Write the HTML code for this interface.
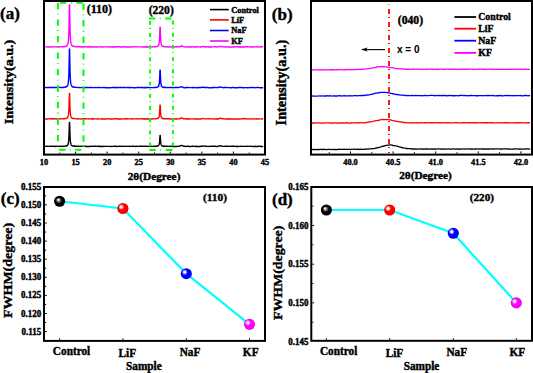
<!DOCTYPE html>
<html><head><meta charset="utf-8"><style>
html,body{margin:0;padding:0;background:#fff;width:533px;height:373px;overflow:hidden}
svg{display:block}
</style></head><body>
<svg width="533" height="373" viewBox="0 0 533 373">
<rect width="533" height="373" fill="#fff"/>
<defs>
<radialGradient id="gk" cx="0.5" cy="0.5" r="0.5" fx="0.36" fy="0.34"><stop offset="0" stop-color="#fff"/><stop offset="0.1" stop-color="#eee"/><stop offset="0.33" stop-color="#6a6a6a"/><stop offset="0.55" stop-color="#000"/><stop offset="1" stop-color="#000"/></radialGradient>
<radialGradient id="gr" cx="0.5" cy="0.5" r="0.5"><stop offset="0" stop-color="#ff0000"/><stop offset="0.8" stop-color="#ff0000"/><stop offset="1" stop-color="#e00000"/></radialGradient>
<radialGradient id="gb" cx="0.5" cy="0.5" r="0.5"><stop offset="0" stop-color="#0000ff"/><stop offset="0.8" stop-color="#0000ff"/><stop offset="1" stop-color="#0000e0"/></radialGradient>
<radialGradient id="gm" cx="0.5" cy="0.5" r="0.5"><stop offset="0" stop-color="#ff00ff"/><stop offset="0.8" stop-color="#ff00ff"/><stop offset="1" stop-color="#e000e0"/></radialGradient>
<radialGradient id="hl" cx="0.5" cy="0.5" r="0.5"><stop offset="0" stop-color="#fff" stop-opacity="1"/><stop offset="0.3" stop-color="#fff" stop-opacity="0.95"/><stop offset="1" stop-color="#fff" stop-opacity="0"/></radialGradient>
</defs>
<path d="M45.00,146.26 L46.00,146.35 L47.00,146.30 L48.00,146.37 L49.00,146.38 L50.00,146.21 L51.00,146.19 L52.00,146.43 L53.00,146.26 L54.00,146.25 L55.00,146.47 L56.00,146.31 L57.00,146.42 L58.00,146.30 L59.00,146.35 L60.00,146.19 L61.00,146.32 L62.00,146.37 L63.00,146.24 L64.00,146.26 L65.00,146.15 L65.20,145.95 L65.40,146.13 L65.60,146.05 L65.80,145.93 L66.00,145.80 L66.20,146.00 L66.40,145.83 L66.60,145.83 L66.80,145.79 L67.00,145.63 L67.20,145.55 L67.40,145.22 L67.60,145.11 L67.80,144.70 L68.00,144.42 L68.20,143.79 L68.40,142.64 L68.60,141.24 L68.80,138.95 L69.00,135.30 L69.20,129.02 L69.40,122.56 L69.60,122.47 L69.80,129.04 L70.00,135.13 L70.20,138.99 L70.40,141.38 L70.60,142.79 L70.80,143.80 L71.00,144.34 L71.20,144.84 L71.40,145.13 L71.60,145.40 L71.80,145.48 L72.00,145.46 L72.20,145.78 L72.40,145.90 L72.60,145.96 L72.80,145.91 L73.00,146.01 L73.20,145.90 L73.40,146.12 L73.60,146.07 L73.80,146.01 L74.00,145.97 L74.20,146.23 L74.40,146.29 L74.60,146.03 L75.60,146.30 L76.60,146.22 L77.60,146.17 L78.60,146.23 L79.60,146.38 L80.60,146.42 L81.60,146.18 L82.60,146.35 L83.60,146.19 L84.60,146.39 L85.60,146.28 L86.60,146.45 L87.60,146.48 L88.60,146.34 L89.60,146.49 L90.60,146.28 L91.60,146.21 L92.60,146.37 L93.60,146.20 L94.60,146.25 L95.60,146.31 L96.60,146.38 L97.60,146.24 L98.60,146.21 L99.60,146.45 L100.60,146.29 L101.60,146.48 L102.60,146.46 L103.60,146.31 L104.60,146.33 L105.60,146.35 L106.60,146.39 L107.60,146.37 L108.60,146.36 L109.60,146.38 L110.60,146.48 L111.60,146.35 L112.60,146.33 L113.60,146.41 L114.60,146.27 L115.60,146.29 L116.60,146.49 L117.60,146.35 L118.60,146.36 L119.60,146.20 L120.60,146.32 L121.60,146.37 L122.60,146.20 L123.60,146.38 L124.60,146.39 L125.60,146.21 L126.60,146.38 L127.60,146.34 L128.60,146.40 L129.60,146.30 L130.60,146.41 L131.60,146.42 L132.60,146.20 L133.60,146.21 L134.60,146.40 L135.60,146.48 L136.60,146.27 L137.60,146.33 L138.60,146.37 L139.60,146.29 L140.60,146.30 L141.60,146.29 L142.60,146.30 L143.60,146.37 L144.60,146.28 L145.60,146.30 L146.60,146.42 L147.60,146.19 L148.60,146.35 L149.60,146.40 L150.60,146.27 L151.60,146.23 L152.60,146.40 L153.60,146.22 L154.60,146.18 L155.60,146.22 L155.80,146.28 L156.00,146.09 L156.20,146.14 L156.40,146.13 L156.60,146.26 L156.80,146.12 L157.00,146.22 L157.20,145.98 L157.40,145.99 L157.60,146.03 L157.80,146.04 L158.00,145.83 L158.20,145.66 L158.40,145.48 L158.60,145.41 L158.80,145.03 L159.00,144.79 L159.20,144.15 L159.40,142.89 L159.60,141.14 L159.80,138.48 L160.00,135.43 L160.20,135.48 L160.40,138.34 L160.60,141.09 L160.80,142.92 L161.00,144.14 L161.20,144.63 L161.40,145.07 L161.60,145.37 L161.80,145.57 L162.00,145.71 L162.20,145.97 L162.40,145.82 L162.60,145.84 L162.80,146.17 L163.00,146.19 L163.20,146.26 L163.40,146.12 L163.60,146.30 L163.80,146.31 L164.00,146.11 L164.20,146.29 L164.40,146.33 L164.60,146.28 L164.80,146.25 L165.00,146.19 L165.20,146.21 L166.20,146.21 L167.20,146.17 L168.20,146.34 L169.20,146.26 L170.20,146.42 L171.20,146.19 L172.20,146.45 L173.20,146.39 L174.20,146.46 L175.20,146.46 L176.20,146.46 L177.20,146.36 L178.20,146.20 L179.20,146.39 L180.20,145.95 L181.20,145.38 L182.20,145.59 L183.20,146.15 L184.20,146.30 L185.20,146.48 L186.20,146.38 L187.20,146.30 L188.20,146.27 L189.20,146.46 L190.20,146.34 L191.20,146.43 L192.20,146.30 L193.20,146.26 L194.20,146.36 L195.20,146.44 L196.20,146.25 L197.20,146.44 L198.20,146.47 L199.20,146.44 L200.20,146.45 L201.20,146.19 L202.20,146.21 L203.20,146.06 L204.20,146.10 L205.20,146.28 L206.20,146.28 L207.20,146.36 L208.20,146.33 L209.20,146.34 L210.20,146.43 L211.20,146.20 L212.20,146.22 L213.20,146.24 L214.20,146.24 L215.20,146.22 L216.20,146.49 L217.20,146.46 L218.20,146.21 L219.20,146.12 L220.20,145.62 L221.20,145.87 L222.20,146.25 L223.20,146.39 L224.20,146.38 L225.20,146.31 L226.20,146.26 L227.20,146.30 L228.20,146.24 L229.20,146.37 L230.20,146.41 L231.20,146.31 L232.20,146.22 L233.20,146.25 L234.20,146.31 L235.20,146.38 L236.20,146.43 L237.20,146.31 L238.20,146.44 L239.20,146.39 L240.20,146.33 L241.20,146.31 L242.20,146.35 L243.20,146.41 L244.20,146.33 L245.20,146.41 L246.20,146.34 L247.20,146.27 L248.20,146.36 L249.20,146.41 L250.20,146.22 L251.20,146.33 L252.20,146.33 L253.20,146.46 L254.20,146.48 L255.20,146.31 L256.20,146.47 L257.20,146.44 L258.20,146.28 L259.20,146.34 L260.20,146.24 L261.20,146.44 L262.20,146.40 L263.20,146.47" fill="none" stroke="#000" stroke-width="1.4" stroke-linejoin="round"/>
<path d="M45.00,118.98 L46.00,118.94 L47.00,118.96 L48.00,118.91 L49.00,118.77 L50.00,118.91 L51.00,118.74 L52.00,118.78 L53.00,118.96 L54.00,118.74 L55.00,118.75 L56.00,118.75 L57.00,118.98 L58.00,118.76 L59.00,118.71 L60.00,118.94 L61.00,118.71 L62.00,118.91 L63.00,118.82 L64.00,118.82 L65.00,118.77 L65.20,118.63 L65.40,118.67 L65.60,118.41 L65.80,118.59 L66.00,118.47 L66.20,118.48 L66.40,118.23 L66.60,118.35 L66.80,118.31 L67.00,117.93 L67.20,117.86 L67.40,117.75 L67.60,117.58 L67.80,117.07 L68.00,116.60 L68.20,115.97 L68.40,115.11 L68.60,113.64 L68.80,111.06 L69.00,106.91 L69.20,100.38 L69.40,93.41 L69.60,93.43 L69.80,100.29 L70.00,106.95 L70.20,111.23 L70.40,113.53 L70.60,115.15 L70.80,115.94 L71.00,116.75 L71.20,117.23 L71.40,117.53 L71.60,117.73 L71.80,117.91 L72.00,118.10 L72.20,118.30 L72.40,118.17 L72.60,118.23 L72.80,118.49 L73.00,118.59 L73.20,118.52 L73.40,118.53 L73.60,118.65 L73.80,118.52 L74.00,118.57 L74.20,118.57 L74.40,118.70 L74.60,118.64 L75.60,118.67 L76.60,118.85 L77.60,118.95 L78.60,118.77 L79.60,118.91 L80.60,118.83 L81.60,118.97 L82.60,118.89 L83.60,118.80 L84.60,118.79 L85.60,118.74 L86.60,118.87 L87.60,118.85 L88.60,118.79 L89.60,118.84 L90.60,118.83 L91.60,118.97 L92.60,118.78 L93.60,119.04 L94.60,118.88 L95.60,118.92 L96.60,118.88 L97.60,118.99 L98.60,118.99 L99.60,118.91 L100.60,118.89 L101.60,118.96 L102.60,119.00 L103.60,118.86 L104.60,118.96 L105.60,119.03 L106.60,118.89 L107.60,118.81 L108.60,118.82 L109.60,118.96 L110.60,118.95 L111.60,119.03 L112.60,119.00 L113.60,118.82 L114.60,118.80 L115.60,118.82 L116.60,118.80 L117.60,118.96 L118.60,119.00 L119.60,119.02 L120.60,118.82 L121.60,119.01 L122.60,118.84 L123.60,118.87 L124.60,118.96 L125.60,118.77 L126.60,118.77 L127.60,119.00 L128.60,118.83 L129.60,118.85 L130.60,118.92 L131.60,118.95 L132.60,118.75 L133.60,118.84 L134.60,118.88 L135.60,118.89 L136.60,118.81 L137.60,118.92 L138.60,119.03 L139.60,118.86 L140.60,118.90 L141.60,118.78 L142.60,118.82 L143.60,118.94 L144.60,118.77 L145.60,119.00 L146.60,119.01 L147.60,118.76 L148.60,119.01 L149.60,118.84 L150.60,118.95 L151.60,118.94 L152.60,118.79 L153.60,118.88 L154.60,118.85 L155.60,118.85 L155.80,118.67 L156.00,118.80 L156.20,118.85 L156.40,118.74 L156.60,118.68 L156.80,118.52 L157.00,118.60 L157.20,118.52 L157.40,118.58 L157.60,118.50 L157.80,118.39 L158.00,118.17 L158.20,118.18 L158.40,118.00 L158.60,117.61 L158.80,117.48 L159.00,116.88 L159.20,115.91 L159.40,114.82 L159.60,112.35 L159.80,108.88 L160.00,105.24 L160.20,105.21 L160.40,108.95 L160.60,112.50 L160.80,114.68 L161.00,115.96 L161.20,116.74 L161.40,117.23 L161.60,117.78 L161.80,118.03 L162.00,118.15 L162.20,118.34 L162.40,118.33 L162.60,118.38 L162.80,118.48 L163.00,118.67 L163.20,118.46 L163.40,118.64 L163.60,118.59 L163.80,118.77 L164.00,118.67 L164.20,118.68 L164.40,118.71 L164.60,118.77 L164.80,118.85 L165.00,118.73 L165.20,118.89 L166.20,118.71 L167.20,118.77 L168.20,118.74 L169.20,118.75 L170.20,118.95 L171.20,118.94 L172.20,118.79 L173.20,118.79 L174.20,118.86 L175.20,118.96 L176.20,118.98 L177.20,118.96 L178.20,118.92 L179.20,118.76 L180.20,118.56 L181.20,117.90 L182.20,118.10 L183.20,118.71 L184.20,118.79 L185.20,118.82 L186.20,118.98 L187.20,118.75 L188.20,118.99 L189.20,119.01 L190.20,119.03 L191.20,118.86 L192.20,118.91 L193.20,118.92 L194.20,118.94 L195.20,119.04 L196.20,118.95 L197.20,118.84 L198.20,119.01 L199.20,118.89 L200.20,118.93 L201.20,118.96 L202.20,118.57 L203.20,118.58 L204.20,118.83 L205.20,118.89 L206.20,118.91 L207.20,118.89 L208.20,118.81 L209.20,118.91 L210.20,118.76 L211.20,118.90 L212.20,118.94 L213.20,118.88 L214.20,118.92 L215.20,119.04 L216.20,119.02 L217.20,118.79 L218.20,118.97 L219.20,118.71 L220.20,118.09 L221.20,118.43 L222.20,118.76 L223.20,118.77 L224.20,118.91 L225.20,119.03 L226.20,118.85 L227.20,119.01 L228.20,118.96 L229.20,118.79 L230.20,119.01 L231.20,118.93 L232.20,119.03 L233.20,118.96 L234.20,118.97 L235.20,118.85 L236.20,118.99 L237.20,119.03 L238.20,119.01 L239.20,118.88 L240.20,118.98 L241.20,118.89 L242.20,118.78 L243.20,118.76 L244.20,118.77 L245.20,118.81 L246.20,118.80 L247.20,118.90 L248.20,118.96 L249.20,118.91 L250.20,118.88 L251.20,118.94 L252.20,118.84 L253.20,118.89 L254.20,118.98 L255.20,118.87 L256.20,118.80 L257.20,119.02 L258.20,118.97 L259.20,118.86 L260.20,118.86 L261.20,118.91 L262.20,118.93 L263.20,118.82" fill="none" stroke="#ff0000" stroke-width="1.4" stroke-linejoin="round"/>
<path d="M45.00,87.44 L46.00,87.50 L47.00,87.67 L48.00,87.48 L49.00,87.57 L50.00,87.49 L51.00,87.49 L52.00,87.47 L53.00,87.54 L54.00,87.47 L55.00,87.42 L56.00,87.44 L57.00,87.45 L58.00,87.53 L59.00,87.39 L60.00,87.37 L61.00,87.47 L62.00,87.43 L63.00,87.47 L64.00,87.20 L65.00,87.17 L65.20,87.13 L65.40,86.98 L65.60,87.21 L65.80,86.93 L66.00,86.82 L66.20,86.85 L66.40,86.67 L66.60,86.69 L66.80,86.46 L67.00,86.22 L67.20,85.98 L67.40,85.89 L67.60,85.39 L67.80,85.04 L68.00,84.25 L68.20,83.41 L68.40,81.75 L68.60,79.44 L68.80,75.72 L69.00,69.61 L69.20,59.67 L69.40,49.05 L69.60,48.98 L69.80,59.69 L70.00,69.66 L70.20,75.81 L70.40,79.37 L70.60,81.67 L70.80,83.15 L71.00,84.16 L71.20,84.82 L71.40,85.32 L71.60,85.87 L71.80,86.23 L72.00,86.24 L72.20,86.65 L72.40,86.64 L72.60,86.86 L72.80,86.99 L73.00,87.07 L73.20,86.87 L73.40,87.01 L73.60,87.15 L73.80,87.30 L74.00,87.08 L74.20,87.17 L74.40,87.37 L74.60,87.17 L75.60,87.35 L76.60,87.39 L77.60,87.53 L78.60,87.63 L79.60,87.42 L80.60,87.61 L81.60,87.61 L82.60,87.65 L83.60,87.57 L84.60,87.69 L85.60,87.53 L86.60,87.55 L87.60,87.49 L88.60,87.66 L89.60,87.57 L90.60,87.51 L91.60,87.48 L92.60,87.65 L93.60,87.62 L94.60,87.65 L95.60,87.55 L96.60,87.58 L97.60,87.48 L98.60,87.65 L99.60,87.45 L100.60,87.58 L101.60,87.67 L102.60,87.64 L103.60,87.47 L104.60,87.51 L105.60,87.70 L106.60,87.64 L107.60,87.71 L108.60,87.70 L109.60,87.58 L110.60,87.71 L111.60,87.66 L112.60,87.54 L113.60,87.56 L114.60,87.47 L115.60,87.56 L116.60,87.73 L117.60,87.48 L118.60,87.62 L119.60,87.48 L120.60,87.47 L121.60,87.64 L122.60,87.52 L123.60,87.46 L124.60,87.49 L125.60,87.64 L126.60,87.62 L127.60,87.45 L128.60,87.51 L129.60,87.73 L130.60,87.51 L131.60,87.61 L132.60,87.57 L133.60,87.68 L134.60,87.62 L135.60,87.68 L136.60,87.60 L137.60,87.50 L138.60,87.49 L139.60,87.46 L140.60,87.69 L141.60,87.47 L142.60,87.44 L143.60,87.72 L144.60,87.49 L145.60,87.70 L146.60,87.45 L147.60,87.56 L148.60,87.49 L149.60,87.66 L150.60,87.59 L151.60,87.59 L152.60,87.61 L153.60,87.62 L154.60,87.43 L155.60,87.45 L155.80,87.38 L156.00,87.26 L156.20,87.46 L156.40,87.36 L156.60,87.40 L156.80,87.18 L157.00,87.23 L157.20,87.16 L157.40,87.17 L157.60,86.90 L157.80,86.88 L158.00,86.79 L158.20,86.50 L158.40,86.42 L158.60,86.16 L158.80,85.62 L159.00,85.02 L159.20,83.97 L159.40,82.16 L159.60,79.36 L159.80,75.08 L160.00,70.11 L160.20,70.14 L160.40,74.81 L160.60,79.32 L160.80,82.15 L161.00,84.07 L161.20,85.04 L161.40,85.75 L161.60,86.23 L161.80,86.43 L162.00,86.76 L162.20,86.81 L162.40,86.90 L162.60,87.16 L162.80,87.23 L163.00,87.30 L163.20,87.22 L163.40,87.35 L163.60,87.27 L163.80,87.48 L164.00,87.48 L164.20,87.32 L164.40,87.53 L164.60,87.32 L164.80,87.31 L165.00,87.51 L165.20,87.40 L166.20,87.51 L167.20,87.57 L168.20,87.41 L169.20,87.63 L170.20,87.50 L171.20,87.55 L172.20,87.53 L173.20,87.65 L174.20,87.65 L175.20,87.52 L176.20,87.47 L177.20,87.53 L178.20,87.56 L179.20,87.43 L180.20,87.19 L181.20,86.76 L182.20,86.85 L183.20,87.53 L184.20,87.72 L185.20,87.71 L186.20,87.56 L187.20,87.49 L188.20,87.54 L189.20,87.58 L190.20,87.60 L191.20,87.61 L192.20,87.55 L193.20,87.70 L194.20,87.53 L195.20,87.59 L196.20,87.71 L197.20,87.69 L198.20,87.54 L199.20,87.52 L200.20,87.69 L201.20,87.44 L202.20,87.31 L203.20,87.21 L204.20,87.49 L205.20,87.49 L206.20,87.46 L207.20,87.51 L208.20,87.68 L209.20,87.59 L210.20,87.74 L211.20,87.68 L212.20,87.74 L213.20,87.46 L214.20,87.50 L215.20,87.45 L216.20,87.58 L217.20,87.55 L218.20,87.45 L219.20,87.39 L220.20,86.80 L221.20,87.12 L222.20,87.47 L223.20,87.69 L224.20,87.57 L225.20,87.53 L226.20,87.46 L227.20,87.58 L228.20,87.64 L229.20,87.65 L230.20,87.72 L231.20,87.69 L232.20,87.52 L233.20,87.49 L234.20,87.68 L235.20,87.69 L236.20,87.60 L237.20,87.70 L238.20,87.61 L239.20,87.53 L240.20,87.50 L241.20,87.45 L242.20,87.64 L243.20,87.72 L244.20,87.72 L245.20,87.59 L246.20,87.65 L247.20,87.73 L248.20,87.69 L249.20,87.63 L250.20,87.57 L251.20,87.60 L252.20,87.50 L253.20,87.50 L254.20,87.65 L255.20,87.75 L256.20,87.61 L257.20,87.57 L258.20,87.55 L259.20,87.59 L260.20,87.69 L261.20,87.59 L262.20,87.74 L263.20,87.50" fill="none" stroke="#0000ff" stroke-width="1.4" stroke-linejoin="round"/>
<path d="M45.00,46.83 L46.00,46.89 L47.00,46.86 L48.00,46.99 L49.00,46.98 L50.00,47.01 L51.00,46.91 L52.00,46.73 L53.00,46.89 L54.00,46.88 L55.00,46.85 L56.00,46.78 L57.00,46.91 L58.00,46.96 L59.00,46.70 L60.00,46.85 L61.00,46.74 L62.00,46.75 L63.00,46.81 L64.00,46.74 L65.00,46.50 L65.20,46.33 L65.40,46.50 L65.60,46.22 L65.80,46.22 L66.00,46.28 L66.20,46.04 L66.40,45.92 L66.60,45.99 L66.80,45.84 L67.00,45.45 L67.20,45.23 L67.40,44.89 L67.60,44.44 L67.80,43.92 L68.00,43.39 L68.20,42.03 L68.40,40.47 L68.60,37.95 L68.80,33.82 L69.00,27.08 L69.20,16.30 L69.40,4.79 L69.60,4.72 L69.80,16.33 L70.00,26.93 L70.20,33.88 L70.40,38.18 L70.60,40.42 L70.80,42.09 L71.00,43.24 L71.20,43.93 L71.40,44.56 L71.60,44.82 L71.80,45.19 L72.00,45.65 L72.20,45.60 L72.40,45.98 L72.60,45.89 L72.80,46.24 L73.00,46.23 L73.20,46.30 L73.40,46.21 L73.60,46.24 L73.80,46.50 L74.00,46.36 L74.20,46.40 L74.40,46.63 L74.60,46.67 L75.60,46.52 L76.60,46.86 L77.60,46.77 L78.60,46.76 L79.60,46.69 L80.60,46.79 L81.60,46.98 L82.60,46.78 L83.60,46.74 L84.60,46.75 L85.60,46.75 L86.60,46.82 L87.60,47.00 L88.60,46.75 L89.60,46.78 L90.60,47.01 L91.60,47.03 L92.60,47.03 L93.60,46.81 L94.60,46.84 L95.60,47.02 L96.60,46.88 L97.60,46.95 L98.60,46.83 L99.60,46.75 L100.60,46.84 L101.60,46.96 L102.60,46.98 L103.60,46.91 L104.60,46.88 L105.60,46.90 L106.60,46.87 L107.60,46.90 L108.60,46.99 L109.60,46.80 L110.60,46.92 L111.60,47.02 L112.60,47.00 L113.60,46.80 L114.60,47.03 L115.60,47.00 L116.60,46.79 L117.60,46.82 L118.60,46.80 L119.60,46.76 L120.60,47.04 L121.60,46.87 L122.60,47.01 L123.60,46.78 L124.60,46.75 L125.60,47.00 L126.60,46.98 L127.60,47.04 L128.60,46.95 L129.60,46.90 L130.60,46.97 L131.60,46.77 L132.60,46.90 L133.60,46.87 L134.60,46.79 L135.60,46.92 L136.60,46.84 L137.60,46.89 L138.60,46.85 L139.60,46.83 L140.60,46.84 L141.60,46.92 L142.60,47.03 L143.60,47.01 L144.60,46.99 L145.60,46.98 L146.60,46.81 L147.60,47.01 L148.60,46.80 L149.60,46.75 L150.60,46.85 L151.60,46.91 L152.60,46.78 L153.60,46.84 L154.60,46.70 L155.60,46.83 L155.80,46.66 L156.00,46.65 L156.20,46.64 L156.40,46.71 L156.60,46.71 L156.80,46.53 L157.00,46.45 L157.20,46.45 L157.40,46.21 L157.60,46.23 L157.80,46.24 L158.00,46.07 L158.20,45.67 L158.40,45.65 L158.60,45.15 L158.80,44.83 L159.00,43.89 L159.20,42.67 L159.40,40.86 L159.60,37.75 L159.80,32.55 L160.00,27.28 L160.20,27.24 L160.40,32.53 L160.60,37.58 L160.80,40.85 L161.00,42.73 L161.20,43.89 L161.40,44.73 L161.60,45.30 L161.80,45.57 L162.00,45.69 L162.20,45.91 L162.40,46.10 L162.60,46.28 L162.80,46.23 L163.00,46.29 L163.20,46.42 L163.40,46.46 L163.60,46.42 L163.80,46.61 L164.00,46.75 L164.20,46.66 L164.40,46.75 L164.60,46.79 L164.80,46.81 L165.00,46.85 L165.20,46.72 L166.20,46.84 L167.20,46.70 L168.20,46.95 L169.20,46.81 L170.20,46.85 L171.20,46.98 L172.20,46.81 L173.20,46.78 L174.20,46.98 L175.20,46.91 L176.20,46.76 L177.20,46.74 L178.20,46.84 L179.20,46.71 L180.20,46.69 L181.20,45.89 L182.20,46.02 L183.20,46.65 L184.20,46.88 L185.20,46.87 L186.20,46.93 L187.20,46.94 L188.20,46.87 L189.20,46.77 L190.20,47.04 L191.20,46.95 L192.20,46.77 L193.20,46.88 L194.20,46.97 L195.20,47.04 L196.20,46.77 L197.20,46.75 L198.20,46.89 L199.20,46.87 L200.20,47.02 L201.20,46.98 L202.20,46.67 L203.20,46.48 L204.20,46.81 L205.20,47.01 L206.20,46.81 L207.20,46.87 L208.20,46.77 L209.20,46.94 L210.20,46.76 L211.20,47.03 L212.20,46.91 L213.20,46.92 L214.20,46.77 L215.20,46.82 L216.20,46.89 L217.20,47.01 L218.20,46.89 L219.20,46.61 L220.20,46.36 L221.20,46.52 L222.20,46.85 L223.20,46.81 L224.20,46.84 L225.20,47.02 L226.20,46.79 L227.20,46.91 L228.20,46.93 L229.20,46.86 L230.20,46.98 L231.20,47.02 L232.20,47.01 L233.20,46.97 L234.20,46.81 L235.20,46.77 L236.20,46.88 L237.20,46.84 L238.20,46.81 L239.20,47.01 L240.20,46.81 L241.20,47.00 L242.20,47.03 L243.20,46.79 L244.20,47.02 L245.20,46.87 L246.20,46.81 L247.20,46.81 L248.20,46.76 L249.20,46.90 L250.20,46.86 L251.20,47.00 L252.20,47.00 L253.20,46.77 L254.20,46.87 L255.20,46.87 L256.20,46.80 L257.20,46.82 L258.20,46.83 L259.20,46.96 L260.20,46.85 L261.20,46.78 L262.20,46.82 L263.20,46.88" fill="none" stroke="#ff00ff" stroke-width="1.4" stroke-linejoin="round"/>
<line x1="57.9" y1="3.0" x2="57.9" y2="149" stroke="#00ff00" stroke-width="2" stroke-dasharray="6.4 4.4 0.8 4.87" stroke-dashoffset="0"/>
<line x1="83.5" y1="3.6" x2="83.5" y2="149" stroke="#00ff00" stroke-width="2" stroke-dasharray="6.4 4.4 0.8 4.87" stroke-dashoffset="0"/>
<line x1="60.0" y1="2.8" x2="83" y2="2.8" stroke="#00ff00" stroke-width="2" stroke-dasharray="6.2 4.8 0.8 4.6 6.4 99" stroke-dashoffset="0"/>
<line x1="58.9" y1="149.8" x2="83" y2="149.8" stroke="#00ff00" stroke-width="2" stroke-dasharray="6.7 4.1 0.8 4.6 6.3 99" stroke-dashoffset="0"/>
<line x1="150.1" y1="20.8" x2="150.1" y2="149" stroke="#00ff00" stroke-width="2" stroke-dasharray="3.9 3.4 0.8 4.08" stroke-dashoffset="0"/>
<line x1="172.9" y1="20.6" x2="172.9" y2="149" stroke="#00ff00" stroke-width="2" stroke-dasharray="3.9 3.4 0.8 4.08" stroke-dashoffset="0"/>
<line x1="149.0" y1="18.6" x2="173" y2="18.6" stroke="#00ff00" stroke-width="2" stroke-dasharray="6.2 4.6 0.8 4.6 6.3 99" stroke-dashoffset="0"/>
<line x1="149.4" y1="149.9" x2="173" y2="149.9" stroke="#00ff00" stroke-width="2" stroke-dasharray="6.4 4.5 0.8 4.6 6.7 99" stroke-dashoffset="0"/>
<rect x="44" y="1" width="221" height="153.6" fill="none" stroke="#000" stroke-width="2"/>
<line x1="44.00" y1="153.6" x2="44.00" y2="151.6" stroke="#000" stroke-width="1"/>
<line x1="59.79" y1="153.6" x2="59.79" y2="152.5" stroke="#000" stroke-width="1"/>
<line x1="75.57" y1="153.6" x2="75.57" y2="151.6" stroke="#000" stroke-width="1"/>
<line x1="91.36" y1="153.6" x2="91.36" y2="152.5" stroke="#000" stroke-width="1"/>
<line x1="107.14" y1="153.6" x2="107.14" y2="151.6" stroke="#000" stroke-width="1"/>
<line x1="122.93" y1="153.6" x2="122.93" y2="152.5" stroke="#000" stroke-width="1"/>
<line x1="138.71" y1="153.6" x2="138.71" y2="151.6" stroke="#000" stroke-width="1"/>
<line x1="154.50" y1="153.6" x2="154.50" y2="152.5" stroke="#000" stroke-width="1"/>
<line x1="170.29" y1="153.6" x2="170.29" y2="151.6" stroke="#000" stroke-width="1"/>
<line x1="186.07" y1="153.6" x2="186.07" y2="152.5" stroke="#000" stroke-width="1"/>
<line x1="201.86" y1="153.6" x2="201.86" y2="151.6" stroke="#000" stroke-width="1"/>
<line x1="217.64" y1="153.6" x2="217.64" y2="152.5" stroke="#000" stroke-width="1"/>
<line x1="233.43" y1="153.6" x2="233.43" y2="151.6" stroke="#000" stroke-width="1"/>
<line x1="249.21" y1="153.6" x2="249.21" y2="152.5" stroke="#000" stroke-width="1"/>
<line x1="265.00" y1="153.6" x2="265.00" y2="151.6" stroke="#000" stroke-width="1"/>
<text x="44.00" y="164.6" style='font-family:"Liberation Serif",serif;font-weight:bold;font-size:8.3px' text-anchor="middle" stroke="#000" stroke-width="0.4">10</text>
<text x="75.57" y="164.6" style='font-family:"Liberation Serif",serif;font-weight:bold;font-size:8.3px' text-anchor="middle" stroke="#000" stroke-width="0.4">15</text>
<text x="107.14" y="164.6" style='font-family:"Liberation Serif",serif;font-weight:bold;font-size:8.3px' text-anchor="middle" stroke="#000" stroke-width="0.4">20</text>
<text x="138.71" y="164.6" style='font-family:"Liberation Serif",serif;font-weight:bold;font-size:8.3px' text-anchor="middle" stroke="#000" stroke-width="0.4">25</text>
<text x="170.29" y="164.6" style='font-family:"Liberation Serif",serif;font-weight:bold;font-size:8.3px' text-anchor="middle" stroke="#000" stroke-width="0.4">30</text>
<text x="201.86" y="164.6" style='font-family:"Liberation Serif",serif;font-weight:bold;font-size:8.3px' text-anchor="middle" stroke="#000" stroke-width="0.4">35</text>
<text x="233.43" y="164.6" style='font-family:"Liberation Serif",serif;font-weight:bold;font-size:8.3px' text-anchor="middle" stroke="#000" stroke-width="0.4">40</text>
<text x="265.00" y="164.6" style='font-family:"Liberation Serif",serif;font-weight:bold;font-size:8.3px' text-anchor="middle" stroke="#000" stroke-width="0.4">45</text>
<line x1="210" y1="9.6" x2="228.7" y2="9.6" stroke="#000" stroke-width="1.6"/>
<text x="231.2" y="12.5" style='font-family:"Liberation Serif",serif;font-weight:bold;font-size:8.4px' text-anchor="start" stroke="#000" stroke-width="0.4">Control</text>
<line x1="210" y1="19.9" x2="228.7" y2="19.9" stroke="#ff0000" stroke-width="1.6"/>
<text x="231.2" y="22.799999999999997" style='font-family:"Liberation Serif",serif;font-weight:bold;font-size:8.4px' text-anchor="start" stroke="#000" stroke-width="0.4">LiF</text>
<line x1="210" y1="30.5" x2="228.7" y2="30.5" stroke="#0000ff" stroke-width="1.6"/>
<text x="231.2" y="33.4" style='font-family:"Liberation Serif",serif;font-weight:bold;font-size:8.4px' text-anchor="start" stroke="#000" stroke-width="0.4">NaF</text>
<line x1="210" y1="41.0" x2="228.7" y2="41.0" stroke="#ff00ff" stroke-width="1.6"/>
<text x="231.2" y="43.9" style='font-family:"Liberation Serif",serif;font-weight:bold;font-size:8.4px' text-anchor="start" stroke="#000" stroke-width="0.4">KF</text>
<text x="99.45" y="12.9" style='font-family:"Liberation Serif",serif;font-weight:bold;font-size:12.0px' text-anchor="middle" stroke="#000" stroke-width="0.4">(110)</text>
<text x="161.2" y="13.9" style='font-family:"Liberation Serif",serif;font-weight:bold;font-size:11.6px' text-anchor="middle" stroke="#000" stroke-width="0.4">(220)</text>
<text x="0.1" y="19.4" style='font-family:"Liberation Serif",serif;font-weight:bold;font-size:17px' text-anchor="start" stroke="#000" stroke-width="0.4">(a)</text>
<text x="0" y="0" style='font-family:"Liberation Serif",serif;font-weight:bold;font-size:12.8px' text-anchor="middle" stroke="#000" stroke-width="0.4" transform="translate(12.7 82.0) rotate(-90) scale(1.1 1)">Intensity(a.u.)</text>
<text x="154.05" y="179.6" style='font-family:"Liberation Serif",serif;font-weight:bold;font-size:11.3px' text-anchor="middle" stroke="#000" stroke-width="0.4">2θ(Degree)</text>
<path d="M312.00,149.52 L313.00,149.39 L314.00,149.56 L315.00,149.37 L316.00,149.54 L317.00,149.51 L318.00,149.33 L319.00,149.56 L320.00,149.41 L321.00,149.47 L322.00,149.48 L323.00,149.49 L324.00,149.41 L325.00,149.25 L326.00,149.54 L327.00,149.56 L328.00,149.41 L329.00,149.44 L330.00,149.31 L331.00,149.56 L332.00,149.47 L333.00,149.28 L334.00,149.51 L335.00,149.57 L336.00,149.31 L337.00,149.57 L338.00,149.36 L339.00,149.23 L340.00,149.44 L341.00,149.28 L342.00,149.44 L343.00,149.37 L344.00,149.18 L345.00,149.34 L346.00,149.46 L347.00,149.31 L348.00,149.33 L349.00,149.45 L350.00,149.28 L351.00,149.29 L352.00,149.33 L353.00,149.42 L354.00,149.16 L355.00,149.11 L356.00,149.38 L357.00,149.29 L358.00,149.18 L359.00,149.41 L360.00,149.40 L361.00,149.25 L362.00,149.42 L363.00,149.35 L364.00,149.29 L365.00,149.09 L366.00,148.95 L367.00,149.19 L368.00,149.17 L369.00,148.96 L370.00,148.94 L371.00,148.89 L372.00,148.67 L373.00,148.72 L374.00,148.53 L375.00,148.29 L376.00,147.99 L377.00,147.95 L378.00,147.61 L379.00,147.52 L380.00,147.02 L381.00,146.82 L382.00,146.45 L383.00,146.25 L384.00,146.04 L385.00,145.60 L386.00,145.36 L387.00,145.35 L388.00,145.10 L389.00,145.14 L390.00,144.97 L391.00,144.96 L392.00,145.22 L393.00,145.50 L394.00,145.65 L395.00,145.72 L396.00,145.91 L397.00,146.04 L398.00,146.40 L399.00,146.70 L400.00,147.22 L401.00,147.16 L402.00,147.74 L403.00,147.78 L404.00,147.97 L405.00,148.09 L406.00,148.52 L407.00,148.35 L408.00,148.61 L409.00,148.68 L410.00,148.63 L411.00,148.70 L412.00,149.05 L413.00,149.01 L414.00,149.02 L415.00,149.11 L416.00,148.80 L417.00,149.06 L418.00,149.08 L419.00,148.88 L420.00,148.97 L421.00,149.18 L422.00,148.93 L423.00,149.10 L424.00,148.86 L425.00,149.07 L426.00,148.91 L427.00,149.00 L428.00,148.95 L429.00,149.15 L430.00,149.10 L431.00,149.00 L432.00,149.07 L433.00,148.97 L434.00,149.12 L435.00,148.90 L436.00,149.02 L437.00,149.03 L438.00,148.96 L439.00,148.82 L440.00,148.87 L441.00,149.06 L442.00,148.88 L443.00,149.10 L444.00,149.00 L445.00,149.18 L446.00,149.14 L447.00,149.09 L448.00,148.95 L449.00,148.82 L450.00,149.02 L451.00,149.10 L452.00,149.17 L453.00,148.88 L454.00,148.86 L455.00,149.19 L456.00,149.10 L457.00,148.99 L458.00,149.10 L459.00,148.86 L460.00,149.02 L461.00,149.07 L462.00,149.04 L463.00,148.86 L464.00,148.85 L465.00,149.05 L466.00,149.15 L467.00,148.86 L468.00,148.80 L469.00,148.83 L470.00,149.11 L471.00,148.96 L472.00,148.98 L473.00,149.20 L474.00,149.04 L475.00,148.91 L476.00,149.08 L477.00,148.80 L478.00,148.91 L479.00,149.08 L480.00,148.87 L481.00,148.81 L482.00,149.01 L483.00,148.93 L484.00,149.19 L485.00,148.84 L486.00,149.12 L487.00,148.96 L488.00,149.12 L489.00,148.98 L490.00,149.07 L491.00,148.93 L492.00,148.89 L493.00,148.98 L494.00,149.12 L495.00,148.94 L496.00,148.89 L497.00,148.97 L498.00,148.84 L499.00,148.93 L500.00,149.03 L501.00,149.02 L502.00,149.04 L503.00,148.92 L504.00,148.81 L505.00,148.81 L506.00,148.94 L507.00,148.88 L508.00,149.03 L509.00,148.91 L510.00,149.10 L511.00,149.04 L512.00,149.06 L513.00,149.09 L514.00,149.01 L515.00,148.97 L516.00,148.92 L517.00,148.83 L518.00,149.12 L519.00,149.00 L520.00,148.84 L521.00,149.17 L522.00,149.03 L523.00,149.05 L524.00,148.98 L525.00,148.85 L526.00,149.20 L527.00,148.87 L528.00,148.95 L529.00,149.20 L530.00,148.85" fill="none" stroke="#000" stroke-width="1.3" stroke-linejoin="round"/>
<path d="M312.00,123.00 L313.00,122.99 L314.00,122.89 L315.00,123.16 L316.00,122.96 L317.00,122.79 L318.00,122.97 L319.00,122.78 L320.00,123.06 L321.00,123.13 L322.00,123.14 L323.00,122.79 L324.00,123.04 L325.00,122.89 L326.00,122.96 L327.00,122.89 L328.00,122.89 L329.00,122.81 L330.00,123.01 L331.00,122.79 L332.00,123.14 L333.00,122.77 L334.00,123.14 L335.00,122.83 L336.00,122.78 L337.00,123.04 L338.00,122.95 L339.00,123.05 L340.00,122.94 L341.00,122.99 L342.00,122.77 L343.00,123.00 L344.00,122.93 L345.00,123.11 L346.00,122.73 L347.00,122.75 L348.00,122.99 L349.00,123.09 L350.00,122.88 L351.00,123.00 L352.00,122.93 L353.00,122.86 L354.00,122.89 L355.00,122.93 L356.00,122.70 L357.00,122.80 L358.00,122.96 L359.00,122.75 L360.00,122.81 L361.00,122.70 L362.00,122.70 L363.00,122.78 L364.00,122.76 L365.00,122.78 L366.00,122.51 L367.00,122.30 L368.00,122.24 L369.00,122.00 L370.00,121.92 L371.00,121.89 L372.00,121.72 L373.00,121.37 L374.00,121.13 L375.00,120.87 L376.00,120.67 L377.00,120.57 L378.00,120.25 L379.00,120.29 L380.00,119.97 L381.00,119.71 L382.00,119.61 L383.00,119.35 L384.00,119.56 L385.00,119.54 L386.00,119.41 L387.00,119.61 L388.00,119.53 L389.00,119.64 L390.00,119.81 L391.00,119.99 L392.00,120.36 L393.00,120.59 L394.00,120.85 L395.00,120.83 L396.00,121.31 L397.00,121.41 L398.00,121.57 L399.00,121.80 L400.00,121.94 L401.00,121.99 L402.00,122.19 L403.00,122.40 L404.00,122.52 L405.00,122.68 L406.00,122.45 L407.00,122.79 L408.00,122.79 L409.00,122.79 L410.00,122.92 L411.00,122.60 L412.00,122.87 L413.00,122.93 L414.00,122.63 L415.00,122.82 L416.00,122.97 L417.00,122.71 L418.00,122.94 L419.00,122.96 L420.00,122.77 L421.00,122.66 L422.00,122.69 L423.00,122.93 L424.00,122.77 L425.00,122.73 L426.00,122.78 L427.00,122.97 L428.00,122.70 L429.00,122.61 L430.00,122.98 L431.00,122.73 L432.00,122.75 L433.00,122.99 L434.00,122.71 L435.00,122.63 L436.00,122.96 L437.00,122.70 L438.00,122.69 L439.00,122.98 L440.00,122.69 L441.00,122.96 L442.00,122.73 L443.00,122.72 L444.00,122.69 L445.00,122.82 L446.00,122.82 L447.00,122.76 L448.00,122.80 L449.00,122.72 L450.00,122.94 L451.00,122.97 L452.00,122.90 L453.00,122.93 L454.00,122.63 L455.00,122.70 L456.00,122.68 L457.00,122.66 L458.00,122.99 L459.00,122.96 L460.00,122.97 L461.00,122.82 L462.00,122.65 L463.00,122.77 L464.00,122.62 L465.00,122.96 L466.00,122.71 L467.00,122.72 L468.00,122.98 L469.00,122.68 L470.00,122.97 L471.00,122.72 L472.00,122.87 L473.00,122.64 L474.00,122.96 L475.00,122.76 L476.00,122.74 L477.00,122.86 L478.00,122.84 L479.00,122.70 L480.00,122.65 L481.00,122.83 L482.00,122.61 L483.00,122.95 L484.00,122.74 L485.00,122.67 L486.00,122.73 L487.00,122.65 L488.00,122.73 L489.00,122.82 L490.00,122.76 L491.00,122.73 L492.00,122.72 L493.00,122.79 L494.00,122.91 L495.00,122.78 L496.00,122.91 L497.00,122.79 L498.00,122.65 L499.00,122.67 L500.00,122.94 L501.00,122.79 L502.00,122.75 L503.00,122.81 L504.00,122.94 L505.00,122.75 L506.00,122.74 L507.00,122.75 L508.00,122.60 L509.00,122.82 L510.00,122.79 L511.00,122.80 L512.00,122.78 L513.00,122.79 L514.00,122.89 L515.00,122.67 L516.00,122.99 L517.00,122.65 L518.00,122.95 L519.00,122.67 L520.00,122.92 L521.00,122.70 L522.00,122.63 L523.00,122.82 L524.00,122.94 L525.00,122.94 L526.00,122.95 L527.00,122.99 L528.00,122.62 L529.00,122.75 L530.00,122.64" fill="none" stroke="#ff0000" stroke-width="1.3" stroke-linejoin="round"/>
<path d="M312.00,96.10 L313.00,95.97 L314.00,96.08 L315.00,96.10 L316.00,96.18 L317.00,96.04 L318.00,96.12 L319.00,95.98 L320.00,95.79 L321.00,96.11 L322.00,95.79 L323.00,95.78 L324.00,96.08 L325.00,95.85 L326.00,96.00 L327.00,95.74 L328.00,95.81 L329.00,96.01 L330.00,95.73 L331.00,95.92 L332.00,96.08 L333.00,95.79 L334.00,95.98 L335.00,95.99 L336.00,95.94 L337.00,95.99 L338.00,95.96 L339.00,95.68 L340.00,95.75 L341.00,95.88 L342.00,96.05 L343.00,95.75 L344.00,95.89 L345.00,95.70 L346.00,95.99 L347.00,95.82 L348.00,95.85 L349.00,95.90 L350.00,95.68 L351.00,95.91 L352.00,95.93 L353.00,95.95 L354.00,95.71 L355.00,95.68 L356.00,95.63 L357.00,95.91 L358.00,95.70 L359.00,95.65 L360.00,95.67 L361.00,95.69 L362.00,95.48 L363.00,95.42 L364.00,95.51 L365.00,95.42 L366.00,95.11 L367.00,94.89 L368.00,95.08 L369.00,94.83 L370.00,94.58 L371.00,94.30 L372.00,94.31 L373.00,93.87 L374.00,93.55 L375.00,93.27 L376.00,93.15 L377.00,93.03 L378.00,92.74 L379.00,92.80 L380.00,92.54 L381.00,92.36 L382.00,92.38 L383.00,92.33 L384.00,92.35 L385.00,92.36 L386.00,92.47 L387.00,92.59 L388.00,92.88 L389.00,92.82 L390.00,93.26 L391.00,93.28 L392.00,93.73 L393.00,93.64 L394.00,94.02 L395.00,94.21 L396.00,94.52 L397.00,94.49 L398.00,94.68 L399.00,94.77 L400.00,95.07 L401.00,95.18 L402.00,95.04 L403.00,95.18 L404.00,95.26 L405.00,95.61 L406.00,95.45 L407.00,95.53 L408.00,95.44 L409.00,95.61 L410.00,95.69 L411.00,95.64 L412.00,95.38 L413.00,95.56 L414.00,95.59 L415.00,95.41 L416.00,95.71 L417.00,95.52 L418.00,95.52 L419.00,95.65 L420.00,95.63 L421.00,95.60 L422.00,95.74 L423.00,95.61 L424.00,95.54 L425.00,95.43 L426.00,95.62 L427.00,95.55 L428.00,95.61 L429.00,95.54 L430.00,95.40 L431.00,95.42 L432.00,95.46 L433.00,95.44 L434.00,95.74 L435.00,95.63 L436.00,95.50 L437.00,95.68 L438.00,95.65 L439.00,95.42 L440.00,95.70 L441.00,95.49 L442.00,95.80 L443.00,95.46 L444.00,95.51 L445.00,95.50 L446.00,95.74 L447.00,95.73 L448.00,95.63 L449.00,95.46 L450.00,95.57 L451.00,95.68 L452.00,95.42 L453.00,95.77 L454.00,95.74 L455.00,95.77 L456.00,95.68 L457.00,95.65 L458.00,95.79 L459.00,95.51 L460.00,95.52 L461.00,95.45 L462.00,95.47 L463.00,95.72 L464.00,95.44 L465.00,95.70 L466.00,95.56 L467.00,95.75 L468.00,95.70 L469.00,95.67 L470.00,95.74 L471.00,95.42 L472.00,95.51 L473.00,95.55 L474.00,95.57 L475.00,95.67 L476.00,95.75 L477.00,95.70 L478.00,95.77 L479.00,95.68 L480.00,95.54 L481.00,95.60 L482.00,95.70 L483.00,95.73 L484.00,95.55 L485.00,95.54 L486.00,95.65 L487.00,95.49 L488.00,95.75 L489.00,95.40 L490.00,95.66 L491.00,95.59 L492.00,95.48 L493.00,95.63 L494.00,95.59 L495.00,95.78 L496.00,95.75 L497.00,95.63 L498.00,95.75 L499.00,95.75 L500.00,95.47 L501.00,95.73 L502.00,95.73 L503.00,95.80 L504.00,95.70 L505.00,95.56 L506.00,95.48 L507.00,95.66 L508.00,95.48 L509.00,95.70 L510.00,95.63 L511.00,95.73 L512.00,95.54 L513.00,95.52 L514.00,95.76 L515.00,95.67 L516.00,95.55 L517.00,95.62 L518.00,95.57 L519.00,95.66 L520.00,95.61 L521.00,95.51 L522.00,95.79 L523.00,95.75 L524.00,95.70 L525.00,95.51 L526.00,95.48 L527.00,95.69 L528.00,95.73 L529.00,95.66 L530.00,95.49" fill="none" stroke="#0000ff" stroke-width="1.3" stroke-linejoin="round"/>
<path d="M312.00,69.98 L313.00,69.90 L314.00,69.83 L315.00,69.91 L316.00,69.85 L317.00,69.92 L318.00,69.95 L319.00,70.04 L320.00,69.69 L321.00,69.86 L322.00,70.01 L323.00,69.88 L324.00,69.85 L325.00,69.95 L326.00,69.61 L327.00,69.91 L328.00,69.84 L329.00,69.82 L330.00,69.70 L331.00,69.82 L332.00,69.61 L333.00,69.77 L334.00,69.65 L335.00,69.92 L336.00,69.86 L337.00,69.72 L338.00,69.82 L339.00,69.67 L340.00,69.72 L341.00,69.57 L342.00,69.84 L343.00,69.80 L344.00,69.79 L345.00,69.51 L346.00,69.80 L347.00,69.47 L348.00,69.68 L349.00,69.64 L350.00,69.46 L351.00,69.60 L352.00,69.78 L353.00,69.66 L354.00,69.52 L355.00,69.71 L356.00,69.51 L357.00,69.70 L358.00,69.48 L359.00,69.32 L360.00,69.64 L361.00,69.23 L362.00,69.25 L363.00,69.39 L364.00,69.05 L365.00,69.13 L366.00,69.15 L367.00,68.92 L368.00,68.69 L369.00,68.70 L370.00,68.56 L371.00,68.28 L372.00,68.11 L373.00,67.80 L374.00,67.64 L375.00,67.68 L376.00,67.49 L377.00,66.93 L378.00,66.85 L379.00,66.74 L380.00,66.86 L381.00,66.55 L382.00,66.50 L383.00,66.74 L384.00,66.53 L385.00,66.92 L386.00,66.81 L387.00,67.10 L388.00,67.22 L389.00,67.13 L390.00,67.54 L391.00,67.57 L392.00,67.67 L393.00,67.78 L394.00,68.22 L395.00,68.32 L396.00,68.37 L397.00,68.72 L398.00,68.58 L399.00,68.79 L400.00,68.74 L401.00,68.92 L402.00,69.20 L403.00,69.10 L404.00,69.00 L405.00,69.07 L406.00,69.27 L407.00,69.14 L408.00,69.41 L409.00,69.09 L410.00,69.42 L411.00,69.33 L412.00,69.42 L413.00,69.23 L414.00,69.12 L415.00,69.16 L416.00,69.35 L417.00,69.11 L418.00,69.14 L419.00,69.41 L420.00,69.45 L421.00,69.44 L422.00,69.43 L423.00,69.32 L424.00,69.45 L425.00,69.38 L426.00,69.32 L427.00,69.27 L428.00,69.11 L429.00,69.14 L430.00,69.20 L431.00,69.28 L432.00,69.15 L433.00,69.49 L434.00,69.33 L435.00,69.40 L436.00,69.46 L437.00,69.19 L438.00,69.45 L439.00,69.48 L440.00,69.21 L441.00,69.15 L442.00,69.42 L443.00,69.46 L444.00,69.42 L445.00,69.26 L446.00,69.34 L447.00,69.15 L448.00,69.19 L449.00,69.27 L450.00,69.40 L451.00,69.14 L452.00,69.47 L453.00,69.11 L454.00,69.49 L455.00,69.19 L456.00,69.43 L457.00,69.43 L458.00,69.48 L459.00,69.29 L460.00,69.38 L461.00,69.22 L462.00,69.43 L463.00,69.14 L464.00,69.45 L465.00,69.34 L466.00,69.12 L467.00,69.48 L468.00,69.23 L469.00,69.13 L470.00,69.20 L471.00,69.11 L472.00,69.21 L473.00,69.38 L474.00,69.50 L475.00,69.35 L476.00,69.44 L477.00,69.43 L478.00,69.39 L479.00,69.25 L480.00,69.20 L481.00,69.16 L482.00,69.32 L483.00,69.18 L484.00,69.40 L485.00,69.23 L486.00,69.33 L487.00,69.32 L488.00,69.35 L489.00,69.16 L490.00,69.20 L491.00,69.38 L492.00,69.19 L493.00,69.37 L494.00,69.49 L495.00,69.26 L496.00,69.48 L497.00,69.35 L498.00,69.48 L499.00,69.31 L500.00,69.40 L501.00,69.37 L502.00,69.18 L503.00,69.31 L504.00,69.33 L505.00,69.29 L506.00,69.36 L507.00,69.46 L508.00,69.42 L509.00,69.42 L510.00,69.16 L511.00,69.38 L512.00,69.35 L513.00,69.48 L514.00,69.10 L515.00,69.17 L516.00,69.49 L517.00,69.25 L518.00,69.38 L519.00,69.34 L520.00,69.26 L521.00,69.28 L522.00,69.32 L523.00,69.49 L524.00,69.31 L525.00,69.42 L526.00,69.22 L527.00,69.38 L528.00,69.34 L529.00,69.40 L530.00,69.45" fill="none" stroke="#ff00ff" stroke-width="1.3" stroke-linejoin="round"/>
<line x1="389" y1="4.5" x2="389" y2="153" stroke="#ff0000" stroke-width="1.8" stroke-dasharray="0.8 4.1 5 3.1" stroke-dashoffset="0.4"/>
<rect x="311" y="1" width="221.0" height="153.6" fill="none" stroke="#000" stroke-width="2"/>
<line x1="329.20" y1="153.6" x2="329.20" y2="152.2" stroke="#000" stroke-width="1"/>
<line x1="350.50" y1="153.6" x2="350.50" y2="151.4" stroke="#000" stroke-width="1"/>
<line x1="371.80" y1="153.6" x2="371.80" y2="152.2" stroke="#000" stroke-width="1"/>
<line x1="393.10" y1="153.6" x2="393.10" y2="151.4" stroke="#000" stroke-width="1"/>
<line x1="414.40" y1="153.6" x2="414.40" y2="152.2" stroke="#000" stroke-width="1"/>
<line x1="435.70" y1="153.6" x2="435.70" y2="151.4" stroke="#000" stroke-width="1"/>
<line x1="457.00" y1="153.6" x2="457.00" y2="152.2" stroke="#000" stroke-width="1"/>
<line x1="478.30" y1="153.6" x2="478.30" y2="151.4" stroke="#000" stroke-width="1"/>
<line x1="499.60" y1="153.6" x2="499.60" y2="152.2" stroke="#000" stroke-width="1"/>
<line x1="520.90" y1="153.6" x2="520.90" y2="151.4" stroke="#000" stroke-width="1"/>
<text x="350.50" y="165" style='font-family:"Liberation Serif",serif;font-weight:bold;font-size:8.3px' text-anchor="middle" stroke="#000" stroke-width="0.4">40.0</text>
<text x="393.10" y="165" style='font-family:"Liberation Serif",serif;font-weight:bold;font-size:8.3px' text-anchor="middle" stroke="#000" stroke-width="0.4">40.5</text>
<text x="435.70" y="165" style='font-family:"Liberation Serif",serif;font-weight:bold;font-size:8.3px' text-anchor="middle" stroke="#000" stroke-width="0.4">41.0</text>
<text x="478.30" y="165" style='font-family:"Liberation Serif",serif;font-weight:bold;font-size:8.3px' text-anchor="middle" stroke="#000" stroke-width="0.4">41.5</text>
<text x="520.90" y="165" style='font-family:"Liberation Serif",serif;font-weight:bold;font-size:8.3px' text-anchor="middle" stroke="#000" stroke-width="0.4">42.0</text>
<line x1="454.4" y1="17.0" x2="476.1" y2="17.0" stroke="#000" stroke-width="1.8"/>
<text x="478.3" y="19.9" style='font-family:"Liberation Serif",serif;font-weight:bold;font-size:9.8px' text-anchor="start" stroke="#000" stroke-width="0.4">Control</text>
<line x1="454.4" y1="28.7" x2="476.1" y2="28.7" stroke="#ff0000" stroke-width="1.8"/>
<text x="478.3" y="31.599999999999998" style='font-family:"Liberation Serif",serif;font-weight:bold;font-size:9.8px' text-anchor="start" stroke="#000" stroke-width="0.4">LiF</text>
<line x1="454.4" y1="40.7" x2="476.1" y2="40.7" stroke="#0000ff" stroke-width="1.8"/>
<text x="478.3" y="43.6" style='font-family:"Liberation Serif",serif;font-weight:bold;font-size:9.8px' text-anchor="start" stroke="#000" stroke-width="0.4">NaF</text>
<line x1="454.4" y1="52.9" x2="476.1" y2="52.9" stroke="#ff00ff" stroke-width="1.8"/>
<text x="478.3" y="55.8" style='font-family:"Liberation Serif",serif;font-weight:bold;font-size:9.8px' text-anchor="start" stroke="#000" stroke-width="0.4">KF</text>
<text x="410.4" y="23.9" style='font-family:"Liberation Serif",serif;font-weight:bold;font-size:11.7px' text-anchor="middle" stroke="#000" stroke-width="0.4">(040)</text>
<line x1="364" y1="49.6" x2="385" y2="49.6" stroke="#000" stroke-width="1.1"/>
<path d="M360.8,49.6 L367.6,47.6 L366.2,49.6 L367.6,51.6 Z" fill="#000"/>
<text x="397" y="52.9" style='font-family:"Liberation Sans",sans-serif;font-weight:bold;font-size:10px' text-anchor="start" stroke="#000" stroke-width="0.1">x = 0</text>
<text x="271.8" y="20.1" style='font-family:"Liberation Serif",serif;font-weight:bold;font-size:17px' text-anchor="start" stroke="#000" stroke-width="0.4">(b)</text>
<text x="0" y="0" style='font-family:"Liberation Serif",serif;font-weight:bold;font-size:13.6px' text-anchor="middle" stroke="#000" stroke-width="0.4" transform="translate(286.2 82.6) rotate(-90) scale(1.05 1)">Intensity(a.u.)</text>
<text x="425.5" y="179.1" style='font-family:"Liberation Serif",serif;font-weight:bold;font-size:11.3px' text-anchor="middle" stroke="#000" stroke-width="0.4">2θ(Degree)</text>
<polyline points="59.60,201.28 122.90,208.52 186.30,273.68 249.50,324.36" fill="none" stroke="#00ffff" stroke-width="2.15"/>
<circle cx="59.60" cy="201.28" r="5.55" fill="url(#gk)"/>
<circle cx="122.90" cy="208.52" r="5.55" fill="url(#gr)"/>
<circle cx="121.30" cy="207.02" r="3.0" fill="url(#hl)"/>
<circle cx="186.30" cy="273.68" r="5.55" fill="url(#gb)"/>
<circle cx="184.70" cy="272.18" r="3.0" fill="url(#hl)"/>
<circle cx="249.50" cy="324.36" r="5.55" fill="url(#gm)"/>
<circle cx="247.90" cy="322.86" r="3.0" fill="url(#hl)"/>
<rect x="44" y="187" width="221" height="153.89999999999998" fill="none" stroke="#000" stroke-width="2"/>
<line x1="45" y1="195.85" x2="46.2" y2="195.85" stroke="#000" stroke-width="1"/>
<line x1="45" y1="204.90" x2="46.8" y2="204.90" stroke="#000" stroke-width="1"/>
<line x1="45" y1="213.95" x2="46.2" y2="213.95" stroke="#000" stroke-width="1"/>
<line x1="45" y1="223.00" x2="46.8" y2="223.00" stroke="#000" stroke-width="1"/>
<line x1="45" y1="232.05" x2="46.2" y2="232.05" stroke="#000" stroke-width="1"/>
<line x1="45" y1="241.10" x2="46.8" y2="241.10" stroke="#000" stroke-width="1"/>
<line x1="45" y1="250.15" x2="46.2" y2="250.15" stroke="#000" stroke-width="1"/>
<line x1="45" y1="259.20" x2="46.8" y2="259.20" stroke="#000" stroke-width="1"/>
<line x1="45" y1="268.25" x2="46.2" y2="268.25" stroke="#000" stroke-width="1"/>
<line x1="45" y1="277.30" x2="46.8" y2="277.30" stroke="#000" stroke-width="1"/>
<line x1="45" y1="286.35" x2="46.2" y2="286.35" stroke="#000" stroke-width="1"/>
<line x1="45" y1="295.40" x2="46.8" y2="295.40" stroke="#000" stroke-width="1"/>
<line x1="45" y1="304.45" x2="46.2" y2="304.45" stroke="#000" stroke-width="1"/>
<line x1="45" y1="313.50" x2="46.8" y2="313.50" stroke="#000" stroke-width="1"/>
<line x1="45" y1="322.55" x2="46.2" y2="322.55" stroke="#000" stroke-width="1"/>
<line x1="45" y1="331.60" x2="46.8" y2="331.60" stroke="#000" stroke-width="1"/>
<text x="0" y="0" style='font-family:"Liberation Serif",serif;font-weight:bold;font-size:9px' text-anchor="end" stroke="#000" stroke-width="0.4" transform="translate(41.2 189.80) scale(1 1.08)">0.155</text>
<text x="0" y="0" style='font-family:"Liberation Serif",serif;font-weight:bold;font-size:9px' text-anchor="end" stroke="#000" stroke-width="0.4" transform="translate(41.2 207.90) scale(1 1.08)">0.150</text>
<text x="0" y="0" style='font-family:"Liberation Serif",serif;font-weight:bold;font-size:9px' text-anchor="end" stroke="#000" stroke-width="0.4" transform="translate(41.2 226.00) scale(1 1.08)">0.145</text>
<text x="0" y="0" style='font-family:"Liberation Serif",serif;font-weight:bold;font-size:9px' text-anchor="end" stroke="#000" stroke-width="0.4" transform="translate(41.2 244.10) scale(1 1.08)">0.140</text>
<text x="0" y="0" style='font-family:"Liberation Serif",serif;font-weight:bold;font-size:9px' text-anchor="end" stroke="#000" stroke-width="0.4" transform="translate(41.2 262.20) scale(1 1.08)">0.135</text>
<text x="0" y="0" style='font-family:"Liberation Serif",serif;font-weight:bold;font-size:9px' text-anchor="end" stroke="#000" stroke-width="0.4" transform="translate(41.2 280.30) scale(1 1.08)">0.130</text>
<text x="0" y="0" style='font-family:"Liberation Serif",serif;font-weight:bold;font-size:9px' text-anchor="end" stroke="#000" stroke-width="0.4" transform="translate(41.2 298.40) scale(1 1.08)">0.125</text>
<text x="0" y="0" style='font-family:"Liberation Serif",serif;font-weight:bold;font-size:9px' text-anchor="end" stroke="#000" stroke-width="0.4" transform="translate(41.2 316.50) scale(1 1.08)">0.120</text>
<text x="0" y="0" style='font-family:"Liberation Serif",serif;font-weight:bold;font-size:9px' text-anchor="end" stroke="#000" stroke-width="0.4" transform="translate(41.2 334.60) scale(1 1.08)">0.115</text>
<line x1="59.60" y1="339.9" x2="59.60" y2="338.29999999999995" stroke="#000" stroke-width="1"/>
<line x1="122.90" y1="339.9" x2="122.90" y2="338.29999999999995" stroke="#000" stroke-width="1"/>
<line x1="186.30" y1="339.9" x2="186.30" y2="338.29999999999995" stroke="#000" stroke-width="1"/>
<line x1="249.50" y1="339.9" x2="249.50" y2="338.29999999999995" stroke="#000" stroke-width="1"/>
<text x="0" y="0" style='font-family:"Liberation Serif",serif;font-weight:bold;font-size:11.3px' text-anchor="middle" stroke="#000" stroke-width="0.4" transform="translate(71.55 355.2) scale(1 1.04)">Control</text>
<text x="0" y="0" style='font-family:"Liberation Serif",serif;font-weight:bold;font-size:11.3px' text-anchor="middle" stroke="#000" stroke-width="0.4" transform="translate(127.3 356.6) scale(1 1.04)">LiF</text>
<text x="0" y="0" style='font-family:"Liberation Serif",serif;font-weight:bold;font-size:11.3px' text-anchor="middle" stroke="#000" stroke-width="0.4" transform="translate(190.05 356.0) scale(1 1.04)">NaF</text>
<text x="0" y="0" style='font-family:"Liberation Serif",serif;font-weight:bold;font-size:11.3px' text-anchor="middle" stroke="#000" stroke-width="0.4" transform="translate(250.7 355.7) scale(1 1.04)">KF</text>
<text x="0" y="0" style='font-family:"Liberation Serif",serif;font-weight:bold;font-size:11.3px' text-anchor="middle" stroke="#000" stroke-width="0.4" transform="translate(143.9 370.1) scale(1 1.06)">Sample</text>
<text x="214.9" y="200.6" style='font-family:"Liberation Serif",serif;font-weight:bold;font-size:11.4px' text-anchor="middle" stroke="#000" stroke-width="0.4">(110)</text>
<text x="0.8" y="204" style='font-family:"Liberation Serif",serif;font-weight:bold;font-size:17px' text-anchor="start" stroke="#000" stroke-width="0.4">(c)</text>
<text x="0" y="0" style='font-family:"Liberation Serif",serif;font-weight:bold;font-size:13.2px' text-anchor="middle" stroke="#000" stroke-width="0.4" transform="translate(12.0 270.4) rotate(-90) scale(1.06 1)">FWHM(degree)</text>
<polyline points="326.40,210.02 389.70,210.02 453.30,233.24 516.30,302.90" fill="none" stroke="#00ffff" stroke-width="2.15"/>
<circle cx="326.40" cy="210.02" r="5.55" fill="url(#gk)"/>
<circle cx="389.70" cy="210.02" r="5.55" fill="url(#gr)"/>
<circle cx="388.10" cy="208.52" r="3.0" fill="url(#hl)"/>
<circle cx="453.30" cy="233.24" r="5.55" fill="url(#gb)"/>
<circle cx="451.70" cy="231.74" r="3.0" fill="url(#hl)"/>
<circle cx="516.30" cy="302.90" r="5.55" fill="url(#gm)"/>
<circle cx="514.70" cy="301.40" r="3.0" fill="url(#hl)"/>
<rect x="311.3" y="187.0" width="220.7" height="153.8" fill="none" stroke="#000" stroke-width="2"/>
<line x1="312.3" y1="206.15" x2="313.5" y2="206.15" stroke="#000" stroke-width="1"/>
<line x1="312.3" y1="225.50" x2="314.1" y2="225.50" stroke="#000" stroke-width="1"/>
<line x1="312.3" y1="244.85" x2="313.5" y2="244.85" stroke="#000" stroke-width="1"/>
<line x1="312.3" y1="264.20" x2="314.1" y2="264.20" stroke="#000" stroke-width="1"/>
<line x1="312.3" y1="283.55" x2="313.5" y2="283.55" stroke="#000" stroke-width="1"/>
<line x1="312.3" y1="302.90" x2="314.1" y2="302.90" stroke="#000" stroke-width="1"/>
<line x1="312.3" y1="322.25" x2="313.5" y2="322.25" stroke="#000" stroke-width="1"/>
<text x="0" y="0" style='font-family:"Liberation Serif",serif;font-weight:bold;font-size:9px' text-anchor="end" stroke="#000" stroke-width="0.4" transform="translate(308.4 189.90) scale(1 1.12)">0.165</text>
<text x="0" y="0" style='font-family:"Liberation Serif",serif;font-weight:bold;font-size:9px' text-anchor="end" stroke="#000" stroke-width="0.4" transform="translate(308.4 228.60) scale(1 1.12)">0.160</text>
<text x="0" y="0" style='font-family:"Liberation Serif",serif;font-weight:bold;font-size:9px' text-anchor="end" stroke="#000" stroke-width="0.4" transform="translate(308.4 267.30) scale(1 1.12)">0.155</text>
<text x="0" y="0" style='font-family:"Liberation Serif",serif;font-weight:bold;font-size:9px' text-anchor="end" stroke="#000" stroke-width="0.4" transform="translate(308.4 306.00) scale(1 1.12)">0.150</text>
<text x="0" y="0" style='font-family:"Liberation Serif",serif;font-weight:bold;font-size:9px' text-anchor="end" stroke="#000" stroke-width="0.4" transform="translate(308.4 344.70) scale(1 1.12)">0.145</text>
<line x1="326.40" y1="339.8" x2="326.40" y2="338.2" stroke="#000" stroke-width="1"/>
<line x1="389.70" y1="339.8" x2="389.70" y2="338.2" stroke="#000" stroke-width="1"/>
<line x1="453.30" y1="339.8" x2="453.30" y2="338.2" stroke="#000" stroke-width="1"/>
<line x1="516.30" y1="339.8" x2="516.30" y2="338.2" stroke="#000" stroke-width="1"/>
<text x="0" y="0" style='font-family:"Liberation Serif",serif;font-weight:bold;font-size:11.3px' text-anchor="middle" stroke="#000" stroke-width="0.4" transform="translate(338.65 355.2) scale(1 1.04)">Control</text>
<text x="0" y="0" style='font-family:"Liberation Serif",serif;font-weight:bold;font-size:11.3px' text-anchor="middle" stroke="#000" stroke-width="0.4" transform="translate(394.45 356.6) scale(1 1.04)">LiF</text>
<text x="0" y="0" style='font-family:"Liberation Serif",serif;font-weight:bold;font-size:11.3px' text-anchor="middle" stroke="#000" stroke-width="0.4" transform="translate(456.8 355.8) scale(1 1.04)">NaF</text>
<text x="0" y="0" style='font-family:"Liberation Serif",serif;font-weight:bold;font-size:11.3px' text-anchor="middle" stroke="#000" stroke-width="0.4" transform="translate(517.3 355.7) scale(1 1.04)">KF</text>
<text x="0" y="0" style='font-family:"Liberation Serif",serif;font-weight:bold;font-size:11.3px' text-anchor="middle" stroke="#000" stroke-width="0.4" transform="translate(421.5 369.6) scale(1 1.06)">Sample</text>
<text x="481.9" y="200.6" style='font-family:"Liberation Serif",serif;font-weight:bold;font-size:11.2px' text-anchor="middle" stroke="#000" stroke-width="0.4">(220)</text>
<text x="272" y="205.1" style='font-family:"Liberation Serif",serif;font-weight:bold;font-size:17px' text-anchor="start" stroke="#000" stroke-width="0.4">(d)</text>
<text x="0" y="0" style='font-family:"Liberation Serif",serif;font-weight:bold;font-size:13.2px' text-anchor="middle" stroke="#000" stroke-width="0.4" transform="translate(282.2 272.8) rotate(-90) scale(1.05 1)">FWHM(degree)</text>
</svg>
</body></html>
